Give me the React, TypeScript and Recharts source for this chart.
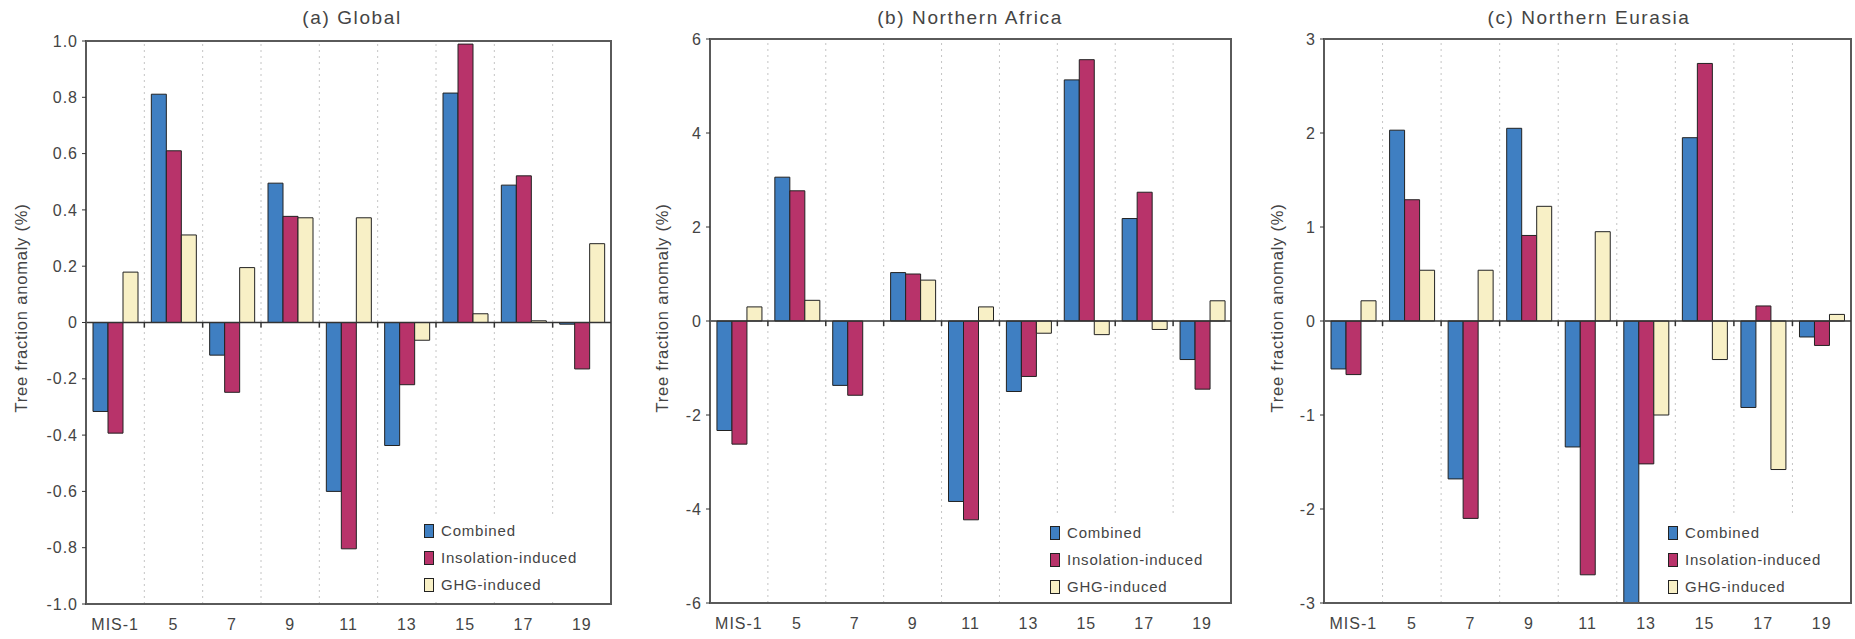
import React from 'react';
import { BarChart, Bar, XAxis, YAxis, ReferenceLine, ReferenceArea, Legend } from 'recharts';

const categories = ['MIS-1', '5', '7', '9', '11', '13', '15', '17', '19'];
const seriesNames = ['Combined', 'Insolation-induced', 'GHG-induced'];

const globalCombined = [-0.316, 0.811, -0.116, 0.495, -0.6, -0.437, 0.815, 0.488, -0.006];
const globalInsolation = [-0.393, 0.61, -0.248, 0.377, -0.804, -0.221, 0.989, 0.521, -0.165];
const globalGHG = [0.179, 0.311, 0.195, 0.372, 0.372, -0.063, 0.031, 0.006, 0.28];

const africaCombined = [-2.33, 3.06, -1.37, 1.03, -3.84, -1.5, 5.13, 2.18, -0.82];
const africaInsolation = [-2.62, 2.77, -1.58, 1.0, -4.23, -1.18, 5.56, 2.74, -1.45];
const africaGHG = [0.3, 0.44, 0.0, 0.87, 0.3, -0.26, -0.29, -0.18, 0.43];

const eurasiaCombined = [-0.51, 2.03, -1.68, 2.05, -1.34, -3.0, 1.95, -0.92, -0.17];
const eurasiaInsolation = [-0.57, 1.29, -2.1, 0.91, -2.7, -1.52, 2.74, 0.16, -0.26];
const eurasiaGHG = [0.215, 0.54, 0.54, 1.22, 0.95, -1.0, -0.41, -1.58, 0.07];

const globalTicks = [-1, -0.8, -0.6, -0.4, -0.2, 0, 0.2, 0.4, 0.6, 0.8, 1];
const africaTicks = [-6, -4, -2, 0, 2, 4, 6];
const eurasiaTicks = [-3, -2, -1, 0, 1, 2, 3];

const titles = ['(a) Global', '(b) Northern Africa', '(c) Northern Eurasia'];
const yLabel = 'Tree fraction anomaly (%)';

const COLORS = ['#3f7fc2', '#b8336a', '#f8f0c6'];
const FONT = '"Liberation Sans", Arial, sans-serif';
const TEXT = '#444';
const BORDER = '#5a5a5a';

const buildData = (a: number[], b: number[], c: number[]) =>
  categories.map((name, i) => ({ name, combined: a[i], insolation: b[i], ghg: c[i], idx: i + 0.5 }));

const boundaries = categories.slice(1).map((_, i) => i + 1);

const LegendBox = () => (
  <div style={{ background: '#fff', padding: '2px 4px 2px 6px', fontFamily: FONT, fontSize: 15, color: TEXT, letterSpacing: 0.8 }}>
    {seriesNames.map((n, i) => (
      <div key={n} style={{ display: 'flex', alignItems: 'center', height: 27 }}>
        <span style={{ display: 'inline-block', width: 10, height: 14, background: COLORS[i], border: '1px solid #222', marginRight: 7, boxSizing: 'border-box' }} />
        <span>{n}</span>
      </div>
    ))}
  </div>
);

type PanelProps = {
  left: number;
  width: number;
  mLeft: number;
  mRight: number;
  mTop: number;
  mBottom: number;
  data: any[];
  ticks: number[];
  fmt: (v: number) => string;
  tickLen: number;
  legendLeft: number;
  legendTop: number;
};

const Panel = (p: PanelProps) => {
  const dom: [number, number] = [p.ticks[0], p.ticks[p.ticks.length - 1]];
  return (
    <div style={{ position: 'absolute', left: p.left, top: 0 }}>
      <BarChart
        width={p.width}
        height={639}
        data={p.data}
        margin={{ left: p.mLeft, right: p.mRight, top: p.mTop, bottom: p.mBottom }}
        barCategoryGap="12%"
        barGap={0}
      >
        <XAxis
          dataKey="name"
          height={30}
          tickLine={false}
          axisLine={{ stroke: BORDER, strokeWidth: 2 }}
          tickSize={6}
          tickMargin={9}
          interval={0}
          tick={{ fill: TEXT, fontSize: 16, fontFamily: FONT, letterSpacing: 1 }}
        />
        <XAxis xAxisId="num" type="number" dataKey="idx" domain={[0, 9]} hide allowDataOverflow />
        <YAxis
          domain={dom}
          ticks={p.ticks}
          width={40}
          tickFormatter={p.fmt}
          tickSize={4}
          tickMargin={4}
          tickLine={{ stroke: '#333' }}
          axisLine={{ stroke: BORDER, strokeWidth: 2 }}
          tick={{ fill: TEXT, fontSize: 16, fontFamily: FONT, letterSpacing: 1 }}
          allowDataOverflow
        />
        {boundaries.map((b) => (
          <ReferenceLine key={'g' + b} xAxisId="num" x={b} stroke="#c4c4c4" strokeDasharray="2 4" strokeWidth={1} />
        ))}
        <Bar dataKey="combined" name={seriesNames[0]} fill={COLORS[0]} stroke="#222" strokeWidth={1} isAnimationActive={false} />
        <Bar dataKey="insolation" name={seriesNames[1]} fill={COLORS[1]} stroke="#222" strokeWidth={1} isAnimationActive={false} />
        <Bar dataKey="ghg" name={seriesNames[2]} fill={COLORS[2]} stroke="#222" strokeWidth={1} isAnimationActive={false} />
        <ReferenceLine y={0} stroke="#333" strokeWidth={1.5} />
        {boundaries.map((b) => (
          <ReferenceLine
            key={'t' + b}
            xAxisId="num"
            segment={[{ x: b, y: 0 }, { x: b, y: -p.tickLen }]}
            stroke="#333"
            strokeWidth={1.5}
          />
        ))}
        <ReferenceArea xAxisId="num" x1={0} x2={9} y1={dom[0]} y2={dom[1]} fill="none" fillOpacity={0} stroke={BORDER} strokeWidth={2} />
        <Legend
          layout="horizontal"
          verticalAlign="middle"
          align="center"
          content={() => <LegendBox />}
          wrapperStyle={{ left: p.legendLeft, top: p.legendTop, width: 'auto', height: 'auto' }}
        />
      </BarChart>
    </div>
  );
};

const fmtGlobal = (v: number) => (v === 0 ? '0' : v.toFixed(1));
const fmtInt = (v: number) => String(v);

export default function App() {
  const titleX = [352, 970, 1589];
  const yLabelX = [21, 662, 1277];
  const yLabelY = 308;
  return (
    <div style={{ position: 'absolute', left: 0, top: 0, width: 1855, height: 639, background: '#fff', overflow: 'hidden' }}>
      <Panel left={0} width={620} mLeft={46} mRight={9} mTop={41} mBottom={5}
        data={buildData(globalCombined, globalInsolation, globalGHG)} ticks={globalTicks} fmt={fmtGlobal}
        tickLen={0.018} legendLeft={418} legendTop={515} />
      <Panel left={620} width={620} mLeft={50} mRight={9} mTop={39} mBottom={6}
        data={buildData(africaCombined, africaInsolation, africaGHG)} ticks={africaTicks} fmt={fmtInt}
        tickLen={0.106} legendLeft={424} legendTop={517} />
      <Panel left={1240} width={615} mLeft={44} mRight={4} mTop={39} mBottom={6}
        data={buildData(eurasiaCombined, eurasiaInsolation, eurasiaGHG)} ticks={eurasiaTicks} fmt={fmtInt}
        tickLen={0.053} legendLeft={422} legendTop={517} />
      <svg width={1855} height={639} style={{ position: 'absolute', left: 0, top: 0, pointerEvents: 'none' }}>
        {titles.map((t, i) => (
          <text key={t} x={titleX[i]} y={24} textAnchor="middle" fontFamily={FONT} fontSize={19} fill={TEXT} letterSpacing={1.6}>
            {t}
          </text>
        ))}
        {yLabelX.map((x, i) => (
          <text key={i} x={x} y={yLabelY} textAnchor="middle" dominantBaseline="central" fontFamily={FONT} fontSize={16.5} fill={TEXT}
            letterSpacing={0.8} transform={`rotate(-90 ${x} ${yLabelY})`}>
            {yLabel}
          </text>
        ))}
      </svg>
    </div>
  );
}
